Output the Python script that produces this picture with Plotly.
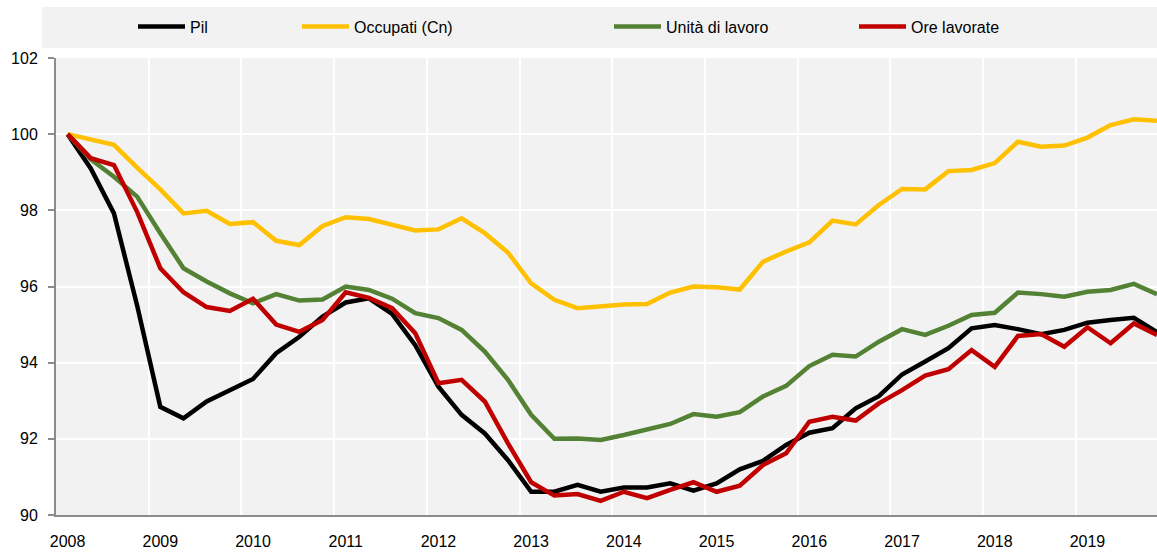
import plotly.graph_objects as go

anni = ["2008", "2009", "2010", "2011", "2012", "2013", "2014", "2015", "2016", "2017", "2018", "2019"]

pil = [100, 99.1, 97.92, 95.5, 92.84, 92.54, 92.98, 93.28, 93.57, 94.25, 94.68, 95.21,
       95.58, 95.69, 95.28, 94.46, 93.37, 92.63, 92.14, 91.44, 90.61, 90.61, 90.79, 90.61,
       90.72, 90.72, 90.83, 90.64, 90.83, 91.2, 91.42, 91.84, 92.16, 92.28, 92.8, 93.12,
       93.69, 94.03, 94.38, 94.9, 94.99, 94.88, 94.75, 94.86, 95.05, 95.12, 95.18, 94.8]

occupati = [100, 99.85, 99.72, 99.12, 98.55, 97.92, 97.99, 97.64, 97.69, 97.2, 97.09, 97.59,
            97.82, 97.77, 97.62, 97.47, 97.5, 97.79, 97.4, 96.89, 96.08, 95.65, 95.43, 95.47,
            95.53, 95.54, 95.84, 96.0, 95.98, 95.92, 96.65, 96.92, 97.16, 97.73, 97.63, 98.14,
            98.56, 98.55, 99.03, 99.06, 99.24, 99.8, 99.67, 99.7, 99.91, 100.24, 100.39, 100.35]

unita_lavoro = [100, 99.34, 98.88, 98.36, 97.4, 96.48, 96.13, 95.82, 95.56, 95.8, 95.63, 95.66,
                96.0, 95.91, 95.68, 95.3, 95.17, 94.86, 94.29, 93.55, 92.63, 92.0, 92.01, 91.97,
                92.1, 92.23, 92.39, 92.65, 92.58, 92.7, 93.11, 93.39, 93.91, 94.21, 94.16, 94.55,
                94.88, 94.73, 94.97, 95.25, 95.31, 95.84, 95.8, 95.73, 95.86, 95.91, 96.07, 95.8]

ore_lavorate = [100, 99.37, 99.19, 97.96, 96.48, 95.85, 95.46, 95.36, 95.68, 95.0, 94.81, 95.12,
                95.85, 95.7, 95.43, 94.77, 93.46, 93.55, 92.98, 91.88, 90.86, 90.51, 90.55, 90.37,
                90.61, 90.44, 90.66, 90.86, 90.61, 90.77, 91.31, 91.62, 92.45, 92.58, 92.48, 92.93,
                93.28, 93.66, 93.83, 94.33, 93.89, 94.7, 94.75, 94.42, 94.93, 94.51, 95.03, 94.73]

serie = [
    ("Pil", pil, "#000000", "legend", 133),
    ("Occupati (Cn)", occupati, "#FFC000", "legend2", 297),
    ("Unità di lavoro", unita_lavoro, "#548235", "legend3", 609),
    ("Ore lavorate", ore_lavorate, "#C00000", "legend4", 854),
]

W, H = 1157, 557
FONT = "Liberation Sans, Arial, sans-serif"
FS = 16

fig = go.Figure()
x = list(range(len(pil)))
for nome, vals, col, leg, _ in serie:
    fig.add_trace(go.Scatter(x=x, y=vals, name=nome, mode="lines",
                             line=dict(color=col, width=4.5), legend=leg,
                             hoverinfo="skip"))

layout_legends = {}
for nome, vals, col, leg, px in serie:
    layout_legends[leg] = dict(
        xref="container", yref="container", x=px / W, y=1 - 26.5 / H,
        xanchor="left", yanchor="middle", orientation="h",
        bgcolor="rgba(0,0,0,0)", font=dict(family=FONT, size=FS, color="#000000"),
        itemwidth=47, itemclick=False, itemdoubleclick=False,
    )

fig.update_layout(
    width=W, height=H,
    margin=dict(l=56, r=0, t=58, b=42, autoexpand=False),
    paper_bgcolor="#FFFFFF",
    plot_bgcolor="#F2F2F2",
    font=dict(family=FONT, size=FS, color="#000000"),
    showlegend=True,
    **layout_legends,
    shapes=[dict(type="rect", xref="paper", yref="paper",
                 x0=(42 - 56) / 1101, x1=1.0, y0=(515 - 48) / 457, y1=(515 - 7) / 457,
                 fillcolor="#F2F2F2", line=dict(width=0), layer="below")],
)

fig.update_xaxes(
    range=[-0.5, 47.0],
    tickmode="array", tickvals=[i * 4 for i in range(len(anni))], ticktext=anni,
    showgrid=False, zeroline=False, ticks="",
    showline=True, linecolor="#8C8C8C", linewidth=2,
    ticklabelstandoff=11,
    minor=dict(tick0=3.5, dtick=4, showgrid=True, gridcolor="#FFFFFF", gridwidth=2, ticks=""),
    tickfont=dict(family=FONT, size=FS),
)
fig.update_yaxes(
    range=[90, 102], tickmode="array", tickvals=[90, 92, 94, 96, 98, 100, 102],
    showgrid=True, gridcolor="#FFFFFF", gridwidth=2, zeroline=False,
    showline=True, linecolor="#8C8C8C", linewidth=2,
    ticks="outside", ticklen=6, tickcolor="#8C8C8C", tickwidth=2,
    ticklabelstandoff=7,
    tickfont=dict(family=FONT, size=FS),
)

post = ("document.body.style.margin='0px';document.body.style.padding='0px';"
        "document.documentElement.style.overflow='hidden';")
fig.write_html("out.html", post_script=post, config={"displayModeBar": False})
